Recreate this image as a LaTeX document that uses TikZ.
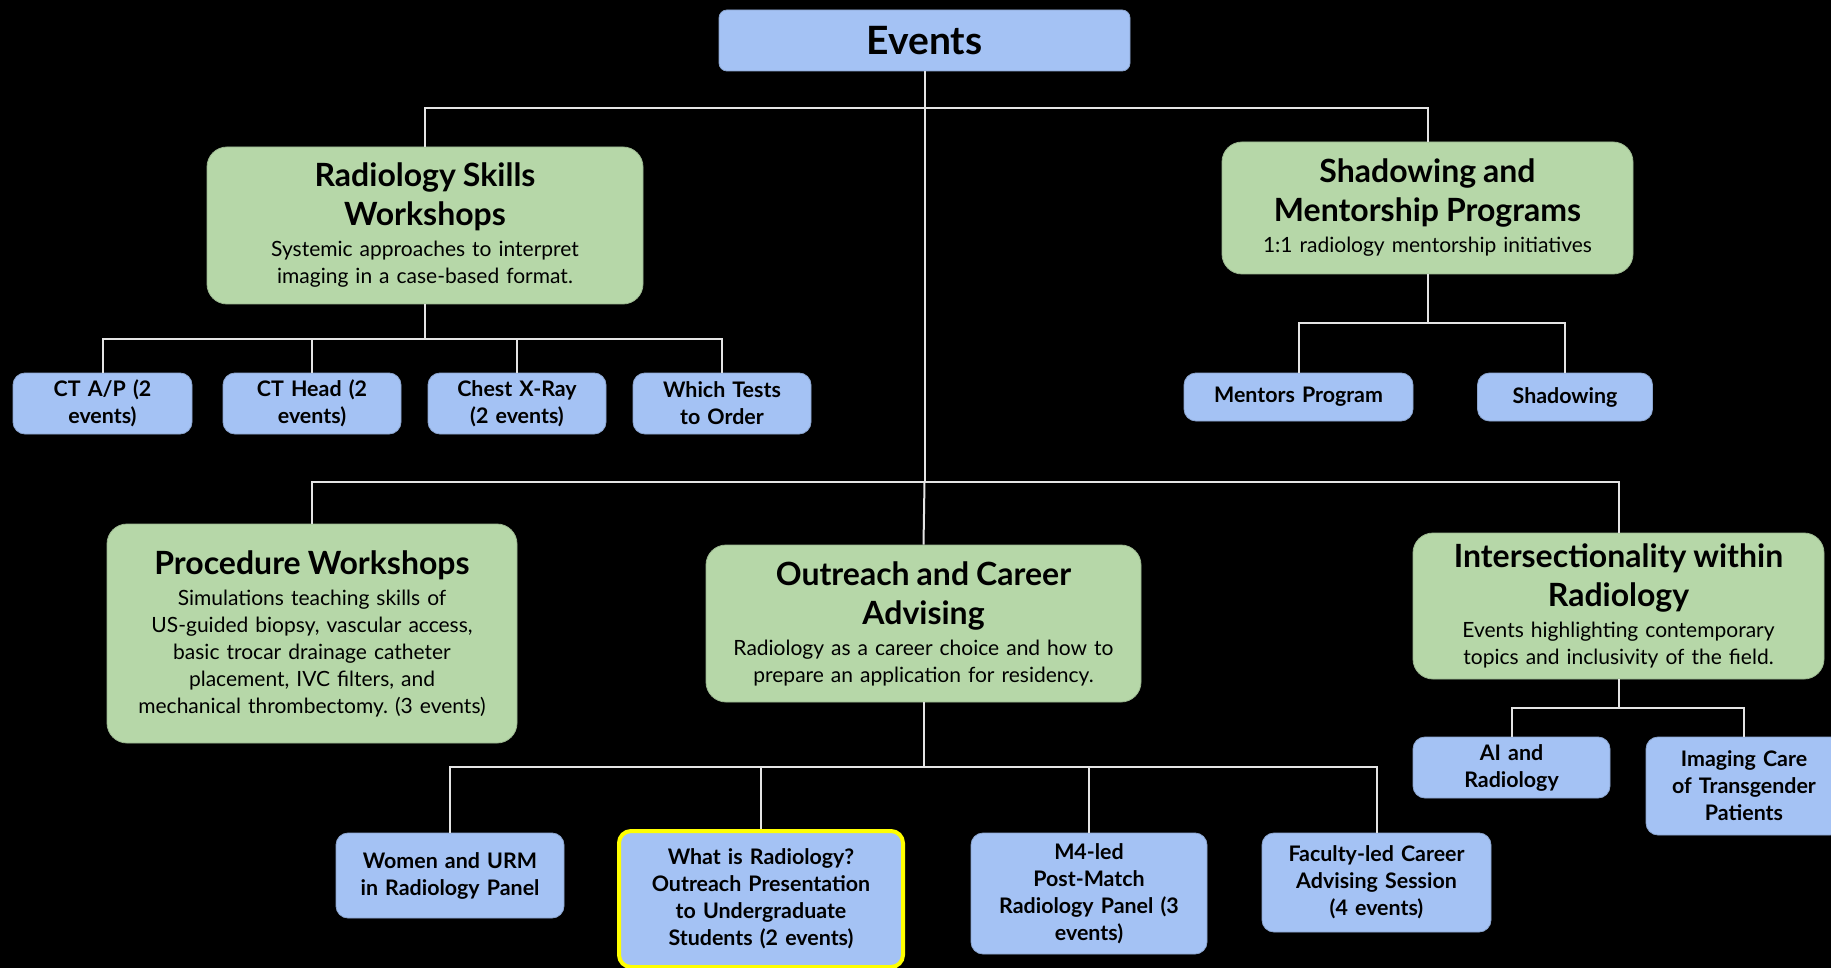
\documentclass[tikz,border=0pt]{standalone}
\usepackage{fontspec}
\setmainfont{Lato}
\usetikzlibrary{positioning}
\frenchspacing

\definecolor{leafblue}{HTML}{A4C2F4}
\definecolor{catgreen}{HTML}{B6D7A8}
\definecolor{wirecol}{HTML}{E4E4E4}
\definecolor{hilite}{HTML}{FFFF00}

% title line of a category box
\newcommand{\cattitle}[1]{{\fontsize{16}{19.5}\selectfont\bfseries #1\par}\vspace{2pt}}

\begin{document}
\begin{tikzpicture}[
  x=0.5pt, y=-0.5pt,
  cat/.style={draw=catgreen!85!black, line width=0.4pt, fill=catgreen, rounded corners=10pt,
    align=center, inner sep=0pt, font=\fontsize{10.5}{13.5}\selectfont},
  leaf/.style={draw=leafblue!85!black, line width=0.4pt, fill=leafblue, rounded corners=6pt,
    align=center, inner sep=0pt, font=\fontsize{10.7}{13.5}\selectfont\bfseries},
  wire/.style={draw=wirecol, line width=1pt}
]
\useasboundingbox (0,0) rectangle (1831,968);
\fill[black] (0,0) rectangle (1831,968);

% root
\node[leaf, rounded corners=4pt, text width=205.5pt, minimum height=30.5pt,
  font=\fontsize{19.5}{22}\selectfont\bfseries] (events) at (924.5,40.5) {Events};

% categories
\node[cat, text width=218pt, minimum height=78.5pt] (skills) at (425,225.5)
  {\cattitle{Radiology Skills\\Workshops}Systemic approaches to interpret\\imaging in a case-based format.};
\node[cat, text width=205.5pt, minimum height=66pt] (shadow) at (1427.5,208)
  {\cattitle{Shadowing and\\Mentorship Programs}1:1 radiology mentorship initiatives};
\node[cat, text width=205pt, minimum height=109.5pt] (proc) at (312,633.5)
  {\cattitle{Procedure Workshops}Simulations teaching skills of\\US-guided biopsy, vascular access,\\basic trocar drainage catheter\\placement, IVC filters, and\\mechanical thrombectomy. (3 events)};
\node[cat, text width=217.5pt, minimum height=78.5pt] (outreach) at (923.5,623.5)
  {\cattitle{Outreach and Career\\Advising}Radiology as a career choice and how to\\prepare an application for residency.};
\node[cat, text width=205.5pt, minimum height=73pt] (inter) at (1618.5,606)
  {\cattitle{Intersectionality within\\Radiology}Events highlighting contemporary\\topics and inclusivity of the field.};

% skills workshops
\node[leaf, text width=89.5pt, minimum height=30.5pt] (ctap) at (102.5,403.5) {CT A/P (2\\events)};
\node[leaf, text width=89pt, minimum height=30.5pt] (cthead) at (312,403.5) {CT Head (2\\events)};
\node[leaf, text width=89pt, minimum height=30.5pt] (chest) at (517,403.5) {Chest X-Ray\\(2 events)};
\node[leaf, text width=89pt, minimum height=30.5pt] (whichtests) at (722,403.5) {Which Tests\\to Order};

% shadowing
\node[leaf, text width=114.5pt, minimum height=24pt] (mentors) at (1298.5,397) {Mentors Program};
\node[leaf, text width=87.5pt, minimum height=24pt] (shadowing) at (1565,397) {Shadowing};

% intersectionality
\node[leaf, text width=98.5pt, minimum height=30.5pt] (ai) at (1511.5,767.5) {AI and\\Radiology};
\node[leaf, text width=98pt, minimum height=49pt] (trans) at (1744,786) {Imaging Care\\of Transgender\\Patients};

% outreach
\node[leaf, text width=114pt, minimum height=42.5pt] (women) at (450,875.5) {Women and URM\\in Radiology Panel};
\node[leaf, draw=hilite, line width=2pt, text width=142pt, minimum height=68pt] (whatis) at (761,899)
  {What is Radiology?\\Outreach Presentation\\to Undergraduate\\Students (2 events)};
\node[leaf, text width=118pt, minimum height=60.5pt] (m4) at (1089,893.5) {M4-led\\Post-Match\\Radiology Panel (3\\events)};
\node[leaf, text width=114.5pt, minimum height=49.5pt] (faculty) at (1376.5,882.5) {Faculty-led Career\\Advising Session\\(4 events)};

% bus levels
\coordinate (lvl1) at (0,108);
\coordinate (lvl2) at (0,482);
\coordinate (lvlskills) at (0,339);
\coordinate (lvlshadow) at (0,323);
\coordinate (lvlinter) at (0,708);
\coordinate (lvlout) at (0,767);

\draw[wire] (skills.north) |- (lvl1 -| events.south) -| (shadow.north);
\draw[wire] (events.south) -- (events.south |- lvl2);
\draw[wire] (proc.north) |- (lvl2 -| events.south) -| (inter.north);
\draw[wire] (events.south |- lvl2) -- (outreach.north);

\draw[wire] (skills.south) -- (skills.south |- lvlskills);
\draw[wire] (ctap.north) |- (lvlskills -| whichtests.north) -- (whichtests.north);
\foreach \n in {cthead,chest}
  \draw[wire] (\n.north) -- (\n.north |- lvlskills);

\draw[wire] (shadow.south) -- (shadow.south |- lvlshadow);
\draw[wire] (mentors.north) |- (lvlshadow -| shadowing.north) -- (shadowing.north);

\draw[wire] (inter.south) -- (inter.south |- lvlinter);
\draw[wire] (ai.north) |- (lvlinter -| trans.north) -- (trans.north);

\draw[wire] (outreach.south) -- (outreach.south |- lvlout);
\draw[wire] (women.north) |- (lvlout -| faculty.north) -- (faculty.north);
\foreach \n in {whatis,m4}
  \draw[wire] (\n.north) -- (\n.north |- lvlout);
\end{tikzpicture}
\end{document}
